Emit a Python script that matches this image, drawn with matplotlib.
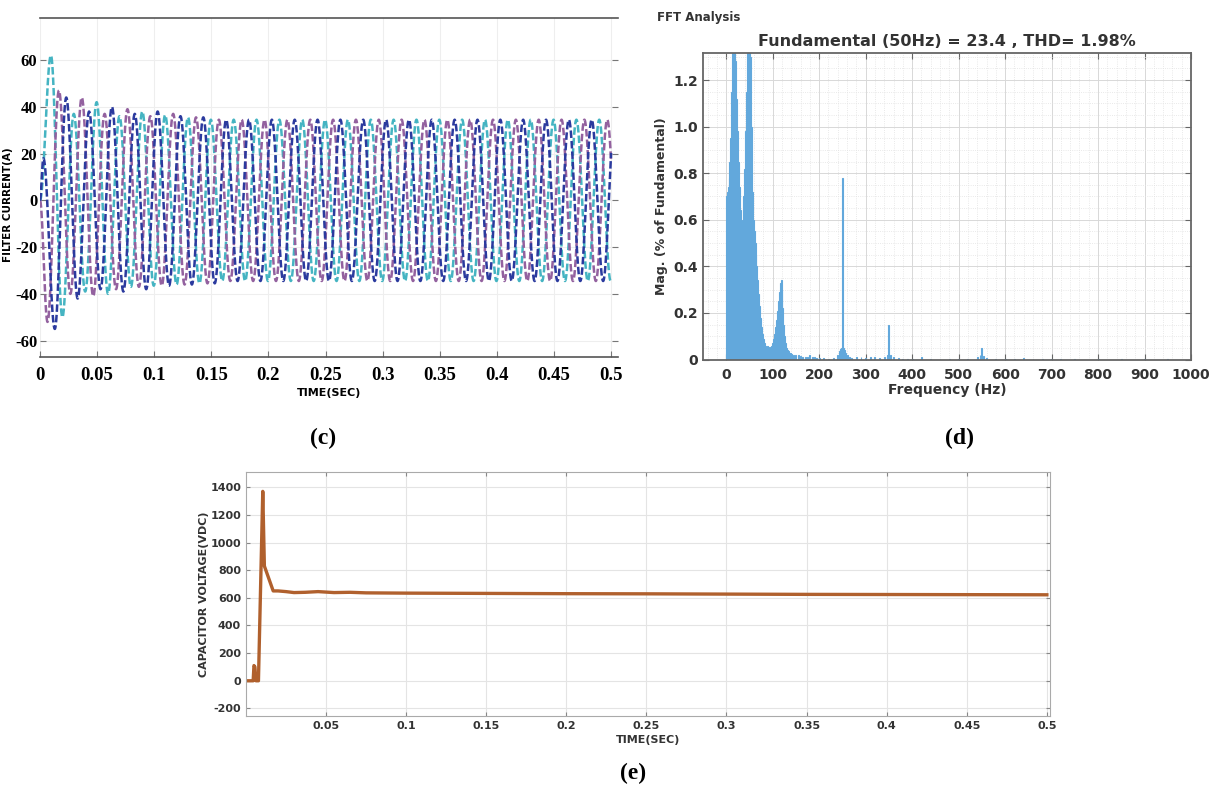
import numpy as np
import matplotlib
matplotlib.use("Agg")
import matplotlib.pyplot as plt
from matplotlib.ticker import MultipleLocator

plt.rcParams["axes.unicode_minus"] = False

# ---------------- data ----------------
# (c) filter currents: extremum values of each phase, one every half cycle (50 Hz)
HALF_PERIOD = 0.01
STEADY_AMP = 34.5
blue_t0 = 0.003
blue_extrema = [18, -55, 44, -42, 38, -38, 40, -39, 37, -38, 38, -36.5, 36, -36, 35.5, -35.5]
cyan_t0 = 0.0096
cyan_extrema = [62, -50, 37, -39, 42, -40, 36, -37, 38, -36.5, 36.5, -36, 35.5, -35.5]
purple_t0 = 0.0066
purple_extrema = [-52, 47, -40, 44, -41, 37, -38, 39, -37, 36, -36.5, 37, -36, 35.5, -35.5]

c_xticks = [0, 0.05, 0.1, 0.15, 0.2, 0.25, 0.3, 0.35, 0.4, 0.45, 0.5]
c_xticklabels = ["0", "0.05", "0.1", "0.15", "0.2", "0.25", "0.3", "0.35", "0.4", "0.45", "0.5"]
c_yticks = [-60, -40, -20, 0, 20, 40, 60]

# (d) FFT spectrum, magnitude in % of fundamental
fft_freq = [0, 2, 4, 6, 8, 10, 12, 14, 16, 18, 20, 22, 24, 26, 28, 30, 32, 34, 36, 38,
            40, 42, 44, 46, 48, 50, 52, 54, 56, 58, 60, 62, 64, 66, 68, 70, 72, 74, 76, 78,
            80, 82, 84, 86, 88, 90, 92, 94, 96, 98, 100, 102, 104, 106, 108, 110, 112, 114,
            116, 118, 120, 122, 124, 126, 128, 130, 132, 134, 136, 138, 140,
            145, 150, 155, 160, 165, 170, 175, 180, 185, 190, 195, 200, 210, 220, 230, 240,
            244, 246, 248, 250, 252, 254, 256, 260, 265, 270, 280, 290, 300, 310, 320, 330,
            340, 346, 350, 354, 360, 370, 380, 390, 400, 420, 440, 460, 480, 500, 520, 540,
            546, 550, 554, 560, 580, 600, 620, 640, 660, 680, 700, 720, 750, 800, 850, 900,
            950, 1000]
fft_mag = [0.70, 0.72, 0.74, 0.78, 0.85, 0.95, 1.15, 1.35, 1.40, 1.38, 1.28, 1.12, 0.98,
           0.85, 0.74, 0.64, 0.58, 0.57, 0.60, 0.70, 0.82, 0.98, 1.15, 1.35, 1.40, 1.40,
           1.30, 1.00, 0.72, 0.60, 0.55, 0.50, 0.45, 0.40, 0.34, 0.28, 0.23, 0.18, 0.14,
           0.11, 0.09, 0.07, 0.06, 0.055, 0.06, 0.055, 0.05, 0.05, 0.055, 0.06, 0.07, 0.09,
           0.11, 0.14, 0.17, 0.21, 0.25, 0.29, 0.33, 0.34, 0.30, 0.22, 0.15, 0.10, 0.07,
           0.05, 0.04, 0.035, 0.03, 0.028, 0.025,
           0.02, 0.02, 0.018, 0.015, 0.012, 0.01, 0.012, 0.018, 0.01, 0.012, 0.008, 0.006,
           0.005, 0.004, 0.006, 0.02, 0.035, 0.045, 0.05, 0.78, 0.05, 0.04, 0.03, 0.018,
           0.01, 0.006, 0.012, 0.01, 0.008, 0.01, 0.012, 0.006, 0.01, 0.02, 0.15, 0.02,
           0.01, 0.006, 0.004, 0.003, 0.004, 0.01, 0.004, 0.003, 0.002, 0.003, 0.003, 0.01,
           0.02, 0.05, 0.015, 0.006, 0.003, 0.004, 0.003, 0.005, 0.002, 0.003, 0.003, 0.002,
           0.002, 0.002, 0.003, 0.002, 0.001, 0.001]
fft_xticks = [0, 100, 200, 300, 400, 500, 600, 700, 800, 900, 1000]
fft_yticks = [0, 0.2, 0.4, 0.6, 0.8, 1.0, 1.2]
fft_yticklabels = ["0", "0.2", "0.4", "0.6", "0.8", "1.0", "1.2"]

# (e) capacitor voltage
vdc_time = [0.0, 0.0045, 0.005, 0.0056, 0.0062, 0.0068, 0.0078, 0.0105, 0.0115, 0.017,
            0.02, 0.025, 0.03, 0.037, 0.045, 0.055, 0.065, 0.075, 0.1, 0.15, 0.2, 0.25,
            0.3, 0.35, 0.4, 0.45, 0.5]
vdc_value = [0, 0, 110, 100, 0, 0, 0, 1370, 830, 650, 650, 645, 638, 640, 645, 638, 640,
             636, 634, 632, 630, 629, 627, 625, 624, 623, 622]
e_xticks = [0.05, 0.1, 0.15, 0.2, 0.25, 0.3, 0.35, 0.4, 0.45, 0.5]
e_xticklabels = ["0.05", "0.1", "0.15", "0.2", "0.25", "0.3", "0.35", "0.4", "0.45", "0.5"]
e_yticks = [-200, 0, 200, 400, 600, 800, 1000, 1200, 1400]


def phase_wave(t0, extrema, t_end=0.5, n=8000):
    """Join the read extrema with half-cosine segments (one per half cycle)."""
    ext = list(extrema)
    n_total = int((t_end - t0) / HALF_PERIOD) + 2
    while len(ext) < n_total:
        ext.append(STEADY_AMP if ext[-1] < 0 else -STEADY_AMP)
    times = np.array([0.0] + [t0 + k * HALF_PERIOD for k in range(len(ext))])
    vals = np.array([0.0] + ext)
    t = np.linspace(0, t_end, n)
    i = np.clip(np.searchsorted(times, t, side="right") - 1, 0, len(times) - 2)
    a, b = vals[i], vals[i + 1]
    ta, tb = times[i], times[i + 1]
    y = (a + b) / 2 + (a - b) / 2 * np.cos(np.pi * (t - ta) / (tb - ta))
    return t, y


fig = plt.figure(figsize=(12.11, 7.94), dpi=100)

# ---------------- (c) filter current ----------------
ax_c = fig.add_axes([0.0330, 0.5504, 0.4773, 0.4269])
for t0, ext, col in [(cyan_t0, cyan_extrema, "#45b4c2"),
                     (purple_t0, purple_extrema, "#93619f"),
                     (blue_t0, blue_extrema, "#2b3a9e")]:
    t, y = phase_wave(t0, ext)
    ax_c.plot(t, y, color=col, lw=1.8, ls=(0, (3, 1.2)))
ax_c.set_xlim(0, 0.506)
ax_c.set_ylim(-67, 78)
ax_c.set_xticks(c_xticks)
ax_c.set_xticklabels(c_xticklabels)
ax_c.set_yticks(c_yticks)
for s in ["left", "right"]:
    ax_c.spines[s].set_visible(False)
for s in ["top", "bottom"]:
    ax_c.spines[s].set_color("#555555")
    ax_c.spines[s].set_linewidth(1.2)
ax_c.tick_params(direction="in", length=4, color="#777777", right=True,
                 labelsize=13.5)
ax_c.tick_params(axis="y", pad=2, labelsize=12)
ax_c.tick_params(axis="x", pad=7)
for lab in ax_c.get_xticklabels() + ax_c.get_yticklabels():
    lab.set_family("Liberation Serif")
    lab.set_fontweight("bold")
ax_c.grid(True, color="#eeeeee", lw=0.8)
ax_c.set_xlabel("TIME(SEC)", fontsize=8, fontweight="bold", labelpad=3)
fig.text(8 / 1211, 1 - 205 / 794, "FILTER CURRENT(A)", fontsize=7.5,
         fontweight="bold", rotation=90, ha="center", va="center")

# ---------------- (d) FFT ----------------
ax_d = fig.add_axes([0.5805, 0.5472, 0.403, 0.386])
ax_d.bar(fft_freq, fft_mag, width=2.0, color="#62a8dc", edgecolor="#62a8dc",
         linewidth=0.8)
ax_d.set_xlim(-50, 1000)
ax_d.set_ylim(0, 1.316)
ax_d.set_xticks(fft_xticks)
ax_d.set_yticks(fft_yticks)
ax_d.set_yticklabels(fft_yticklabels)
ax_d.xaxis.set_minor_locator(MultipleLocator(20))
ax_d.yaxis.set_minor_locator(MultipleLocator(0.05))
ax_d.grid(True, which="major", color="#d8d8d8", lw=0.7)
ax_d.grid(True, which="minor", color="#e2e2e2", lw=0.6, ls=":")
ax_d.set_axisbelow(True)
ax_d.tick_params(which="both", direction="in", top=True, right=True, color="#666666")
ax_d.tick_params(which="major", length=4, labelsize=10, labelcolor="#333333")
ax_d.tick_params(axis="x", which="major", pad=6)
ax_d.tick_params(which="minor", length=0)
for lab in ax_d.get_xticklabels() + ax_d.get_yticklabels():
    lab.set_fontweight("bold")
for s in ax_d.spines.values():
    s.set_color("#666666")
    s.set_linewidth(1.3)
ax_d.set_title("Fundamental (50Hz) = 23.4 , THD= 1.98%", fontsize=11.5,
               fontweight="bold", color="#333333", pad=5)
ax_d.set_xlabel("Frequency (Hz)", fontsize=10, fontweight="bold", color="#333333",
                labelpad=1)
ax_d.set_ylabel("Mag. (% of Fundamental)", fontsize=9, fontweight="bold",
                color="#333333", labelpad=4)
fig.text(657 / 1211, 1 - 18 / 794, "FFT Analysis", fontsize=8.5, fontweight="bold",
         color="#333333", va="center", ha="left")

# ---------------- (e) capacitor voltage ----------------
ax_e = fig.add_axes([0.2031, 0.0982, 0.664, 0.3073])
ax_e.plot(vdc_time, vdc_value, color="#b0602d", lw=2.4)
ax_e.set_xlim(0.0, 0.502)
ax_e.set_ylim(-255, 1510)
ax_e.set_xticks(e_xticks)
ax_e.set_xticklabels(e_xticklabels)
ax_e.set_yticks(e_yticks)
ax_e.grid(True, color="#e4e4e4", lw=0.8)
ax_e.tick_params(direction="in", length=3, top=True, right=True, color="#888888",
                 labelsize=8, labelcolor="#333333")
for lab in ax_e.get_xticklabels() + ax_e.get_yticklabels():
    lab.set_fontweight("bold")
for s in ax_e.spines.values():
    s.set_color("#aaaaaa")
ax_e.set_xlabel("TIME(SEC)", fontsize=8, fontweight="bold", color="#333333",
                labelpad=3)
ax_e.set_ylabel("CAPACITOR VOLTAGE(VDC)", fontsize=8, fontweight="bold",
                color="#333333", labelpad=1)

# ---------------- panel letters ----------------
for x, y, s in [(323, 438, "(c)"), (960, 438, "(d)"), (633, 773, "(e)")]:
    fig.text(x / 1211, 1 - y / 794, s, fontsize=17, fontweight="bold",
             family="Liberation Serif", ha="center", va="center")

fig.savefig("out.png", dpi=100)
